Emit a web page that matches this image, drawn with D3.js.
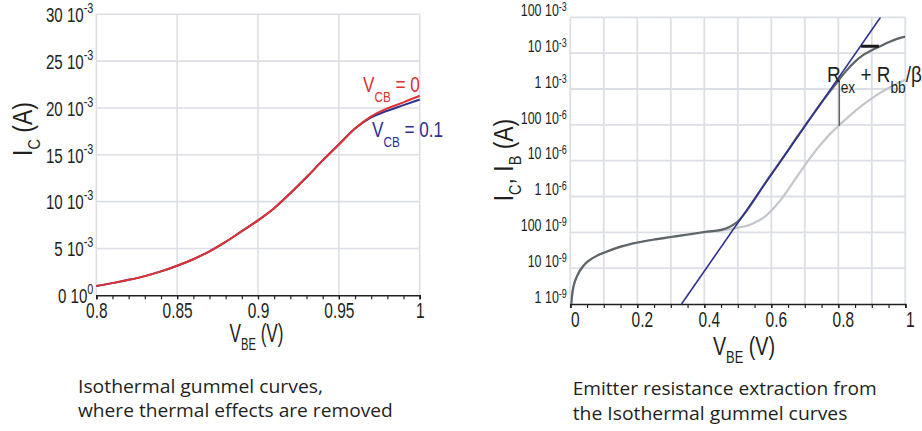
<!DOCTYPE html>
<html><head><meta charset="utf-8">
<script src="https://cdn.jsdelivr.net/npm/d3@7"></script>
<style>
body{margin:0;background:#fff;}
svg{display:block;}
text{font-family:"Liberation Sans",Arial,sans-serif;fill:#231f20;}
</style></head><body>
<svg id="c" width="922" height="431"></svg>
<script>
// ---------- Left chart data ----------
const vbeLeft = [0.80,0.81,0.82,0.83,0.84,0.85,0.86,0.87,0.88,0.89,0.90,0.91,0.92,0.93,0.94,0.95,0.96,0.97,0.98,0.99,1.00];
const icVcb0  = [1.0e-3,1.3e-3,1.65e-3,2.05e-3,2.55e-3,3.15e-3,3.85e-3,4.7e-3,5.7e-3,6.85e-3,8.0e-3,9.3e-3,10.9e-3,12.6e-3,14.4e-3,16.1e-3,17.8e-3,19.1e-3,19.95e-3,20.6e-3,21.3e-3];
const icVcb01 = [1.0e-3,1.3e-3,1.65e-3,2.05e-3,2.55e-3,3.15e-3,3.85e-3,4.7e-3,5.7e-3,6.85e-3,8.0e-3,9.3e-3,10.9e-3,12.6e-3,14.4e-3,16.1e-3,17.8e-3,19.0e-3,19.7e-3,20.3e-3,20.9e-3];
const leftXTicks = [0.8,0.85,0.9,0.95,1];
const leftXLabels = ["0.8","0.85","0.9","0.95","1"];
const leftYTicks = [0,5e-3,10e-3,15e-3,20e-3,25e-3,30e-3];
const leftYMant = ["0","5","10","15","20","25","30"];
const leftYExp = ["0","-3","-3","-3","-3","-3","-3"];

// ---------- Right chart data ----------
const vbeRight = [0.003,0.006,0.01,0.02,0.04,0.06,0.08,0.1,0.15,0.2,0.25,0.3,0.35,0.4,0.45,0.475,0.5,0.525,0.55,0.575,0.6,0.625,0.65,0.675,0.7,0.725,0.75,0.775,0.8,0.825,0.85,0.875,0.9,0.925,0.95,0.975,1.0];
const icRight = [1.0e-9,2.0e-9,3.2e-9,6.0e-9,1.2e-8,1.74e-8,2.24e-8,2.7e-8,4.0e-8,5.2e-8,6.3e-8,7.4e-8,8.7e-8,1.02e-7,1.17e-7,1.41e-7,2.0e-7,3.8e-7,8.3e-7,1.9e-6,4.2e-6,8.9e-6,1.95e-5,4.3e-5,9.3e-5,2.0e-4,4.2e-4,8.5e-4,1.7e-3,3.3e-3,5.8e-3,8.9e-3,1.2e-2,1.55e-2,2.0e-2,2.5e-2,2.9e-2];
const ibRight = [1.0e-9,1.9e-9,3.1e-9,5.8e-9,1.15e-8,1.7e-8,2.2e-8,2.65e-8,3.9e-8,5.1e-8,6.2e-8,7.3e-8,8.5e-8,9.9e-8,1.12e-7,1.2e-7,1.35e-7,1.5e-7,1.86e-7,2.5e-7,4.0e-7,7.4e-7,1.55e-6,3.4e-6,7.4e-6,1.55e-5,3.0e-5,5.5e-5,9.3e-5,1.5e-4,2.4e-4,3.7e-4,5.5e-4,7.8e-4,1.07e-3,1.41e-3,1.82e-3];
const idealV = [0.332, 0.926];
const idealI = [1e-9, 1e-1];
const rexMarkV = [0.803, 0.803];
const rexMarkI = [1.75e-3, 9.3e-5];
const barV = [0.868, 0.921];
const barI = [1.55e-2, 1.55e-2];
const rightXTicks = [0,0.2,0.4,0.6,0.8,1];
const rightXLabels = ["0","0.2","0.4","0.6","0.8","1"];
const rightYTicks = [1e-9,1e-8,1e-7,1e-6,1e-5,1e-4,1e-3,1e-2,1e-1];
const rightYMant = ["1","10","100","1","10","100","1","10","100"];
const rightYExp = ["-9","-9","-9","-6","-6","-6","-3","-3","-3"];

const captionLeft = ["Isothermal gummel curves,", "where thermal effects are removed"];
const captionRight = ["Emitter resistance extraction from", "the Isothermal gummel curves"];

// ---------- setup ----------
const SX = 0.72;
const GRID = "#dcdfe6", INK = "#231f20";
const svg = d3.select("#c");

function rich(textSel, parts) {
  let shift = 0;
  parts.forEach(p => {
    const ts = textSel.append("tspan").text(p.t);
    const target = p.dy || 0;
    if (target - shift !== 0) ts.attr("dy", target - shift);
    shift = target;
    if (p.fs) ts.attr("font-size", p.fs);
  });
}
function ctext(x, y, parts, fs, anchor, color, rot, sx) {
  const g = svg.append("g").attr("transform",
    `translate(${x},${y})` + (rot ? ` rotate(${rot})` : "") + ` scale(${sx || SX},1)`);
  const t = g.append("text").attr("font-size", fs).attr("text-anchor", anchor || "start");
  if (color) t.style("fill", color);
  rich(t, parts);
  return t;
}

// ================= LEFT CHART =================
const L = {l: 96.3, r: 419.7, t: 14.3, b: 295.3};
const xL = d3.scaleLinear().domain([0.8, 1]).range([L.l, L.r]);
const yL = d3.scaleLinear().domain([0, 30e-3]).range([L.b, L.t]);

const gridL = svg.append("g").attr("stroke", GRID).attr("stroke-width", 1.6);
gridL.selectAll(".v").data(leftXTicks).join("line")
  .attr("x1", d => xL(d)).attr("x2", d => xL(d)).attr("y1", L.t).attr("y2", L.b);
gridL.selectAll(".h").data(leftYTicks.slice(1)).join("line")
  .attr("x1", L.l).attr("x2", L.r).attr("y1", d => yL(d)).attr("y2", d => yL(d));

svg.append("g").attr("transform", `translate(0,${L.b})`)
  .call(d3.axisBottom(xL).tickValues(d3.range(0.8, 1.0001, 0.01)).tickFormat("").tickSize(4))
  .call(g => g.select(".domain").remove())
  .call(g => g.selectAll("line").attr("stroke", INK).attr("stroke-width", 1.2));
const gxL = svg.append("g").attr("transform", `translate(0,${L.b})`)
  .call(d3.axisBottom(xL).tickValues(leftXTicks).tickFormat((d, i) => leftXLabels[i]).tickSize(4).tickPadding(3))
  .attr("font-family", null).attr("font-size", 21.5);
gxL.select(".domain").attr("stroke", INK).attr("stroke-width", 1.6);
gxL.selectAll("line").attr("stroke", INK).attr("stroke-width", 1.2);
gxL.selectAll("text").attr("transform", `scale(${SX},1)`).style("fill", INK);

const gyL = svg.append("g").attr("transform", `translate(${L.l},0)`)
  .call(d3.axisLeft(yL).tickValues(leftYTicks).tickSize(0).tickPadding(0))
  .attr("font-family", null).attr("font-size", 21);
gyL.select(".domain").remove();
gyL.selectAll("text").each(function(d, i) {
  const t = d3.select(this).text("").attr("x", -3 / SX).attr("dy", "0.35em")
    .attr("transform", `scale(${SX},1)`).style("fill", INK);
  rich(t, [{t: leftYMant[i] + " 10"}, {t: leftYExp[i], dy: -9, fs: 15}]);
});

const lineL = d3.line().x(d => xL(d[0])).y(d => yL(d[1])).curve(d3.curveMonotoneX);
svg.append("path").datum(vbeLeft.map((v, i) => [v, icVcb01[i]]))
  .attr("d", lineL).attr("fill", "none").attr("stroke", "#2e3192").attr("stroke-width", 2);
svg.append("path").datum(vbeLeft.map((v, i) => [v, icVcb0[i]]))
  .attr("d", lineL).attr("fill", "none").attr("stroke", "#e0312f").attr("stroke-width", 2);

ctext(363, 92, [{t: "V"}, {t: "CB", dy: 10, fs: 15}, {t: " = 0"}], 22, "start", "#e0312f", 0, 0.78);
ctext(372, 137, [{t: "V"}, {t: "CB", dy: 10, fs: 15}, {t: " = 0.1"}], 22, "start", "#2e3192", 0, 0.78);

ctext(256.5, 342, [{t: "V"}, {t: "BE", dy: 8, fs: 17}, {t: " (V)"}], 26, "middle", null, 0, 0.66);
ctext(32, 129, [{t: "I"}, {t: "C", dy: 8, fs: 17}, {t: " (A)"}], 27, "middle", null, -90, 0.85);

// ================= RIGHT CHART =================
const R = {l: 570.3, r: 905.3, t: 17.3, b: 304};
const xR = d3.scaleLinear().domain([0, 1]).range([R.l, R.r]);
const yR = d3.scaleLog().domain([1e-9, 1e-1]).range([R.b, R.t]);

const gridR = svg.append("g").attr("stroke", GRID).attr("stroke-width", 1.8);
gridR.selectAll(".v").data(d3.range(0, 1.0001, 0.1)).join("line")
  .attr("x1", d => xR(d)).attr("x2", d => xR(d)).attr("y1", R.t).attr("y2", R.b);
gridR.selectAll(".h").data(rightYTicks.slice(1)).join("line")
  .attr("x1", R.l).attr("x2", R.r).attr("y1", d => yR(d)).attr("y2", d => yR(d));

svg.append("g").attr("transform", `translate(0,${R.b})`)
  .call(d3.axisBottom(xR).tickValues(d3.range(0, 1.0001, 0.05)).tickFormat("").tickSize(4))
  .call(g => g.select(".domain").remove())
  .call(g => g.selectAll("line").attr("stroke", INK).attr("stroke-width", 1.2));
const gxR = svg.append("g").attr("transform", `translate(0,${R.b})`)
  .call(d3.axisBottom(xR).tickValues(rightXTicks).tickFormat((d, i) => rightXLabels[i]).tickSize(4).tickPadding(4))
  .attr("font-family", null).attr("font-size", 21.5);
gxR.select(".domain").attr("stroke", INK).attr("stroke-width", 1.6);
gxR.selectAll("line").attr("stroke", INK).attr("stroke-width", 1.2);
gxR.selectAll("text").attr("transform", `scale(${SX},1)`).attr("x", 4.5 / SX).style("fill", INK);

const gyR = svg.append("g").attr("transform", `translate(${R.l},0)`)
  .call(d3.axisLeft(yR).tickValues(rightYTicks).tickSize(0).tickPadding(0))
  .attr("font-family", null).attr("font-size", 17.3);
gyR.select(".domain").remove();
gyR.selectAll("text").each(function(d, i) {
  const t = d3.select(this).text("").attr("x", -3.5 / SX).attr("dy", -1.8)
    .attr("transform", `scale(${SX},1)`).style("fill", INK);
  rich(t, [{t: rightYMant[i] + " 10"}, {t: rightYExp[i], dy: -5, fs: 12.5}]);
});

svg.append("clipPath").attr("id", "clipR").append("rect")
  .attr("x", R.l).attr("y", R.t).attr("width", R.r - R.l).attr("height", R.b - R.t);
const lineR = d3.line().x(d => xR(d[0])).y(d => yR(d[1])).curve(d3.curveMonotoneX);
const straight = d3.line().x(d => xR(d[0])).y(d => yR(d[1]));
const plotR = svg.append("g").attr("clip-path", "url(#clipR)");
plotR.append("path").datum(vbeRight.map((v, i) => [v, ibRight[i]]))
  .attr("d", lineR).attr("fill", "none").attr("stroke", "#c3c6cb").attr("stroke-width", 2.2);
plotR.append("path").datum(vbeRight.map((v, i) => [v, icRight[i]]))
  .attr("d", lineR).attr("fill", "none").attr("stroke", "#5d6568").attr("stroke-width", 2.2);
plotR.append("path").datum(idealV.map((v, i) => [v, idealI[i]]))
  .attr("d", straight).attr("fill", "none").attr("stroke", "#2e3192").attr("stroke-width", 1.6);
plotR.append("path").datum(rexMarkV.map((v, i) => [v, rexMarkI[i]]))
  .attr("d", straight).attr("stroke", "#5d6568").attr("stroke-width", 1.5);
plotR.append("path").datum(barV.map((v, i) => [v, barI[i]]))
  .attr("d", straight).attr("stroke", "#1a1a1a").attr("stroke-width", 3);

ctext(827, 81.5, [{t: "R"}, {t: "ex", dy: 11, fs: 16}, {t: " + R"}, {t: "bb", dy: 11, fs: 16}, {t: "/β"}], 22, "start", null, 0, 0.86);

ctext(744, 355, [{t: "V"}, {t: "BE", dy: 8, fs: 17}, {t: " (V)"}], 26, "middle", null, 0, 0.76);
ctext(513, 160, [{t: "I"}, {t: "C", dy: 8, fs: 17}, {t: ", I"}, {t: "B", dy: 8, fs: 17}, {t: " (A)"}], 27, "middle", null, -90, 0.85);

// ================= CAPTIONS =================
function caption(x, y, lines, widths) {
  lines.forEach((s, i) => {
    svg.append("text").attr("x", x).attr("y", y + i * 24.7)
      .attr("font-size", 19).style("font-family", "'Open Sans',sans-serif").style("fill", INK)
      .attr("textLength", widths[i]).attr("lengthAdjust", "spacingAndGlyphs").text(s);
  });
}
caption(78, 392.7, captionLeft, [245, 314.7]);
caption(572.7, 395.3, captionRight, [304, 274.7]);
</script>
</body></html>
